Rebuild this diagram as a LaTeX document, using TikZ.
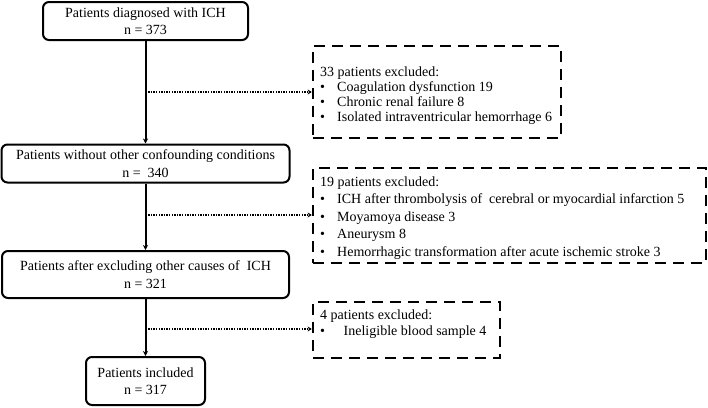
\documentclass[tikz,border=0pt]{standalone}
\usepackage{fontspec}
\setmainfont{Liberation Serif}
\usetikzlibrary{arrows.meta}

\newcommand\exitem[1][17pt]{\makebox[#1][l]{\textbullet}}

\begin{document}
\begin{tikzpicture}[x=1pt,y=-1pt,
    box/.style={draw=black,line width=2pt,rounded corners=6pt,align=center,inner sep=0pt,font=\fontsize{14}{17.5}\selectfont},
    exbox/.style={draw=black,line width=2.6pt,dash pattern=on 11pt off 7pt,inner sep=0pt},
    extext/.style={anchor=west,align=left,inner sep=0pt},
    flow/.style={line width=2pt,-{Stealth[length=5pt,width=5pt]}},
    skip/.style={line width=2pt,dash pattern=on 1.4pt off 1.2pt,-{Stealth[length=4pt,width=5pt]}}]

    \useasboundingbox (0,0) rectangle (708,407);

    % main flow
    \node[box,minimum width=205,minimum height=38] (diag) at (145.5,21) {Patients diagnosed with ICH\\n = 373};
    \node[box,minimum width=288,minimum height=38] (nocond) at (145.5,163.5) {Patients without other confounding conditions\\n = \ 340};
    \node[box,minimum width=287,minimum height=47] (nocause) at (145.5,274.5) {Patients after excluding other causes of\ \ ICH\\n = 321};
    \node[box,minimum width=119,minimum height=48] (incl) at (145.5,381) {Patients included\\n = 317};

    \draw[flow] (diag) -- (nocond);
    \draw[flow] (nocond) -- (nocause);
    \draw[flow] (nocause) -- (incl);

    % exclusions
    \node[exbox,minimum width=248,minimum height=92] (ex1) at (437,92) {};
    \node[extext,font=\fontsize{14}{15}\selectfont] (ex1txt) at (320,96) {33 patients excluded:\\
        \exitem Coagulation dysfunction 19\\
        \exitem Chronic renal failure 8\\
        \exitem Isolated intraventricular hemorrhage 6};

    \node[exbox,minimum width=393,minimum height=95] (ex2) at (509.5,215.5) {};
    \node[extext,font=\fontsize{14}{17.5}\selectfont] (ex2txt) at (320,218) {19 patients excluded:\\
        \exitem ICH after thrombolysis of\ \ cerebral or myocardial infarction 5\\
        \exitem Moyamoya disease 3\\
        \exitem Aneurysm 8\\
        \exitem Hemorrhagic transformation after acute ischemic stroke 3};

    \node[exbox,minimum width=187,minimum height=56] (ex3) at (406.5,330) {};
    \node[extext,font=\fontsize{14}{16}\selectfont] (ex3txt) at (320,324) {4 patients excluded:\\
        \exitem[20pt] Ineligible blood sample 4};

    \coordinate (j1) at (145.5,92);
    \coordinate (j2) at (145.5,215);
    \coordinate (j3) at (145.5,329);

    \draw[skip] (j1) -- (ex1.west |- j1);
    \draw[skip] (j2) -- (ex2.west |- j2);
    \draw[skip] (j3) -- (ex3.west |- j3);
\end{tikzpicture}
\end{document}
